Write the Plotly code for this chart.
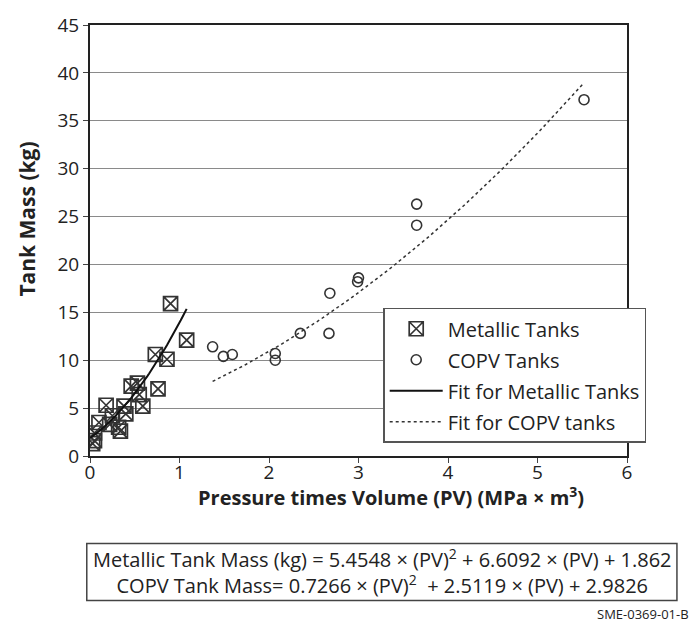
import numpy as np
import plotly.graph_objects as go

# Data
metal_pv = [0.03, 0.05, 0.05, 0.10, 0.18, 0.22, 0.25, 0.32, 0.34, 0.38, 0.40, 0.46, 0.53, 0.55, 0.59, 0.73, 0.76, 0.86, 0.90, 1.08]
metal_mass = [1.3, 1.6, 2.4, 3.5, 5.3, 3.3, 4.2, 3.0, 2.6, 5.2, 4.4, 7.3, 7.6, 6.4, 5.2, 10.6, 7.0, 10.1, 15.9, 12.1]
copv_pv = [1.37, 1.49, 1.59, 2.07, 2.07, 2.35, 2.67, 2.68, 2.99, 3.0, 3.65, 3.65, 5.52]
copv_mass = [11.4, 10.4, 10.6, 10.7, 10.0, 12.8, 12.8, 17.0, 18.2, 18.6, 24.1, 26.3, 37.2]

metal_coef = [5.4548, 6.6092, 1.862]
copv_coef = [0.7266, 2.5119, 2.9826]
metal_fit_range = [0.0, 1.08]
copv_fit_range = [1.37, 5.5]

x_ticks = [0, 1, 2, 3, 4, 5, 6]
y_ticks = [0, 5, 10, 15, 20, 25, 30, 35, 40, 45]

eq_lines = [
    "Metallic Tank Mass (kg) = 5.4548 × (PV)<sup>2</sup> + 6.6092 × (PV) + 1.862",
    "COPV Tank Mass= 0.7266 × (PV)<sup>2</sup>  + 2.5119 × (PV) + 2.9826",
]

FONT = "Open Sans"
INK = "#222222"

xm = np.linspace(metal_fit_range[0], metal_fit_range[1], 50)
ym = np.polyval(metal_coef, xm)
xc = np.linspace(copv_fit_range[0], copv_fit_range[1], 100)
yc = np.polyval(copv_coef, xc)

fig = go.Figure()
fig.add_trace(go.Scatter(x=metal_pv, y=metal_mass, mode="markers", name="Metallic Tanks",
                         legendgroup="a",
                         marker=dict(symbol="square-x-open", size=14, color="#333333", line=dict(width=1.7))))
fig.add_trace(go.Scatter(x=copv_pv, y=copv_mass, mode="markers", name="COPV Tanks",
                         legendgroup="b",
                         marker=dict(symbol="circle-open", size=10, color="#333333", line=dict(width=1.6))))
fig.add_trace(go.Scatter(x=xm, y=ym, mode="lines", name="Fit for Metallic Tanks",
                         legendgroup="c", line=dict(color="#111111", width=2)))
fig.add_trace(go.Scatter(x=xc, y=yc, mode="lines", name="Fit for COPV tanks",
                         legendgroup="d", line=dict(color="#333333", width=1.5, dash="dot")))

fig.update_layout(
    width=691, height=632,
    margin=dict(l=90, r=64, t=17, b=176),
    paper_bgcolor="white", plot_bgcolor="white",
    font=dict(family=FONT, size=18, color=INK),
    showlegend=True,
    legend=dict(x=0.546, y=0.344, xanchor="left", yanchor="top",
                bordercolor="#555555", borderwidth=1.5, bgcolor="white",
                font=dict(family=FONT, size=20, color=INK),
                tracegroupgap=2, itemwidth=53, traceorder="grouped"),
)
fig.update_xaxes(range=[0, 6], tickvals=x_ticks, showgrid=False, zeroline=False,
                 showline=True, linecolor="#222222", linewidth=2, mirror=True,
                 ticks="outside", ticklen=5, tickcolor="#444444",
                 ticklabelstandoff=-7,
                 tickfont=dict(size=19))
fig.update_yaxes(range=[0, 45], tickvals=y_ticks, showgrid=True, gridcolor="#8a8a8a", gridwidth=1,
                 zeroline=False, showline=True, linecolor="#222222", linewidth=2, mirror=True,
                 ticks="outside", ticklen=5, tickcolor="#444444",
                 tickfont=dict(size=19))

# axis titles (placed to match the reference offsets)
fig.add_annotation(xref="paper", yref="paper", x=0.56, y=-0.095, showarrow=False,
                   text="<b>Pressure times Volume (PV) (MPa × m<sup>3</sup>)</b>",
                   font=dict(size=20, family=FONT, color=INK), xanchor="center", yanchor="middle")
fig.add_annotation(xref="paper", yref="paper", x=-0.117, y=0.549, showarrow=False,
                   text="<b>Tank Mass (kg)</b>", textangle=-90,
                   font=dict(size=21, family=FONT, color=INK), xanchor="center", yanchor="middle")

# equation box
fig.add_shape(type="rect", xref="paper", yref="paper",
              x0=-0.006, x1=1.093, y0=-0.335, y1=-0.203,
              line=dict(color="#444444", width=1.5), fillcolor="white")
fig.add_annotation(xref="paper", yref="paper", x=0.544, y=-0.269, showarrow=False,
                   text="<br>".join(eq_lines), align="center",
                   font=dict(size=20, family=FONT, color=INK), xanchor="center", yanchor="middle")
fig.add_annotation(xref="paper", yref="paper", x=1.12, y=-0.367, showarrow=False,
                   text="SME-0369-01-B", font=dict(size=13, family=FONT, color=INK),
                   xanchor="right", yanchor="middle")

fig.write_html("out.html")
